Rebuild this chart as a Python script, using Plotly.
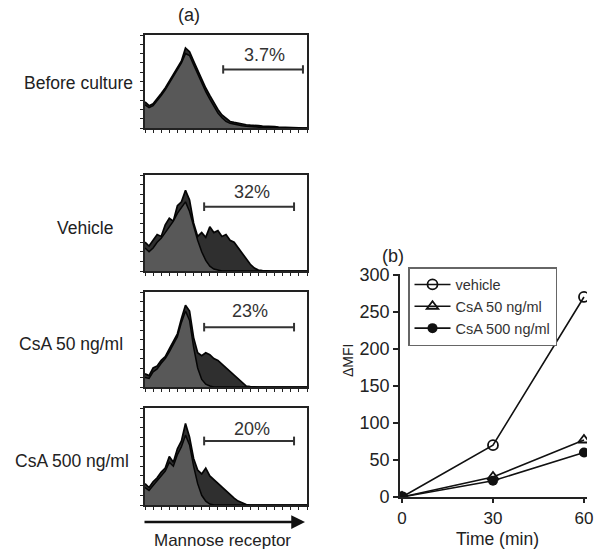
import plotly.graph_objects as go

W, H = 601, 549

# ---------------- data: histograms (counts as % of panel height, 41 channel bins) ----------------
hist_labels = ["Before culture", "Vehicle", "CsA 50 ng/ml", "CsA 500 ng/ml"]
pct_labels = ["3.7%", "32%", "23%", "20%"]
gate_start = [19.3, 14.6, 14.6, 14.6]
gate_end = [39.0, 36.8, 36.8, 36.8]

sample_before = [28, 24, 26, 31, 37, 43, 50, 57, 64, 72, 86, 82, 72, 62, 52, 43, 35, 27, 20, 14, 10,
                 7, 6, 5, 4, 3.5, 3, 3, 2.5, 2, 2, 1.5, 1.5, 1, 1, 0.8, 0.5, 0.3, 0.2, 0, 0]
control_before = [25, 22, 24, 29, 35, 41, 48, 55, 62, 70, 80, 78, 68, 58, 48, 39, 31, 23, 16, 11, 7,
                  5, 4, 3, 2.5, 2, 1.5, 1, 1, 0.5, 0.5, 0.3, 0, 0, 0, 0, 0, 0, 0, 0, 0]
sample_vehicle = [30, 26, 32, 38, 36, 48, 55, 52, 68, 72, 84, 74, 50, 36, 40, 35, 46, 40, 42, 36, 38,
                  32, 30, 24, 18, 12, 7, 3, 1, 0.5, 0, 0, 0, 0, 0, 0, 0, 0, 0, 0, 0]
control_vehicle = [24, 20, 24, 30, 34, 40, 46, 52, 60, 66, 72, 62, 46, 32, 20, 11, 5, 2, 1, 0, 0,
                   0, 0, 0, 0, 0, 0, 0, 0, 0, 0, 0, 0, 0, 0, 0, 0, 0, 0, 0, 0]
sample_csa50 = [14, 12, 20, 22, 28, 32, 40, 48, 56, 72, 86, 80, 52, 36, 33, 36, 34, 30, 28, 24, 20,
                16, 12, 8, 4, 1, 0.5, 0, 0, 0, 0, 0, 0, 0, 0, 0, 0, 0, 0, 0, 0]
control_csa50 = [10, 9, 16, 19, 25, 30, 37, 45, 53, 68, 80, 70, 42, 20, 8, 3, 1, 0, 0, 0, 0,
                 0, 0, 0, 0, 0, 0, 0, 0, 0, 0, 0, 0, 0, 0, 0, 0, 0, 0, 0, 0]
sample_csa500 = [22, 18, 24, 28, 34, 38, 50, 44, 58, 66, 84, 70, 48, 36, 32, 38, 30, 26, 22, 18, 14,
                 10, 7, 4, 2, 0.5, 0, 0, 0, 0, 0, 0, 0, 0, 0, 0, 0, 0, 0, 0, 0]
control_csa500 = [18, 15, 20, 25, 30, 35, 44, 40, 52, 60, 72, 62, 40, 22, 10, 4, 1, 0, 0, 0, 0,
                  0, 0, 0, 0, 0, 0, 0, 0, 0, 0, 0, 0, 0, 0, 0, 0, 0, 0, 0, 0]
samples = [sample_before, sample_vehicle, sample_csa50, sample_csa500]
controls = [control_before, control_vehicle, control_csa50, control_csa500]
bins = list(range(41))

# ---------------- data: line chart ----------------
time_min = [0, 30, 60]
vehicle = [0, 70, 270]
csa50 = [0, 27, 77]
csa500 = [0, 22, 60]
y_ticks = [0, 50, 100, 150, 200, 250, 300]
x_ticks = [0, 30, 60]


def X(px):
    return px / W


def Y(py):
    return 1 - py / H


def text_ann(px, py, text, size, **kw):
    d = dict(xref="paper", yref="paper", x=X(px), y=Y(py), text=text, showarrow=False,
             xanchor="center", yanchor="middle", font=dict(size=size, color="#222"))
    d.update(kw)
    return d


panel_px = [(35, 128), (175, 271), (292, 387), (408, 505)]
label_px = [(78, 83), (85, 228), (71, 344), (72, 461)]
gate_y = [63, 67, 63, 66]
pct_y = [78, 82, 80, 78]
pct_x = [29.6, 26.4, 25.9, 26.4]

fig = go.Figure()
layout = dict(
    width=W, height=H, margin=dict(l=0, r=0, t=0, b=0, autoexpand=False),
    paper_bgcolor="white", plot_bgcolor="white", showlegend=True,
    font=dict(family="Liberation Sans, Arial, sans-serif", color="#222"),
)
annotations = []
shapes = []

for i in range(4):
    n = i + 1
    xa = "x" if n == 1 else f"x{n}"
    ya = "y" if n == 1 else f"y{n}"
    fig.add_trace(go.Scatter(x=bins, y=samples[i], mode="lines", fill="tozeroy",
                             fillcolor="#2f2f2f", line=dict(color="#050505", width=1.7),
                             xaxis=xa, yaxis=ya, showlegend=False, hoverinfo="skip"))
    fig.add_trace(go.Scatter(x=bins, y=controls[i], mode="lines", fill="tozeroy",
                             fillcolor="#585858", line=dict(color="#050505", width=1.5),
                             xaxis=xa, yaxis=ya, showlegend=False, hoverinfo="skip"))
    top, bot = panel_px[i]
    axcommon = dict(showline=True, linecolor="#222", linewidth=1.6, mirror=True,
                    showgrid=False, zeroline=False, showticklabels=False, automargin=False,
                    ticks="outside", ticklen=3, tickcolor="#222", tickwidth=1)
    layout["xaxis" if n == 1 else f"xaxis{n}"] = dict(
        domain=[X(145), X(307)], range=[0, 40], anchor=ya,
        tickvals=[0, 2, 4, 6, 8, 10, 12, 14, 16, 18, 20, 22, 24, 26, 28, 30, 32, 34, 36, 38, 40], **axcommon)
    layout["yaxis" if n == 1 else f"yaxis{n}"] = dict(
        domain=[Y(bot), Y(top)], range=[0, 100], anchor=xa,
        tickvals=[0, 10, 20, 30, 40, 50, 60, 70, 80, 90, 100], **axcommon)
    shapes.append(dict(type="line", xref=xa, yref=ya, x0=gate_start[i], x1=gate_end[i],
                       y0=gate_y[i], y1=gate_y[i], line=dict(color="#333", width=2)))
    for gx in (gate_start[i], gate_end[i]):
        shapes.append(dict(type="line", xref=xa, yref=ya, x0=gx, x1=gx,
                           y0=gate_y[i] - 4.5, y1=gate_y[i] + 4.5, line=dict(color="#333", width=2)))
    annotations.append(dict(xref=xa, yref=ya, x=pct_x[i], y=pct_y[i], text=pct_labels[i],
                            showarrow=False, xanchor="center", yanchor="middle",
                            font=dict(size=18, color="#333")))
    lx, ly = label_px[i]
    annotations.append(text_ann(lx, ly, hist_labels[i], 17.5))

annotations.append(dict(xref="paper", yref="paper", x=X(305), y=Y(522), ax=-162, ay=0,
                        text="", showarrow=True, arrowhead=2, arrowsize=1.1, arrowwidth=2.5,
                        arrowcolor="#111"))
annotations.append(text_ann(222, 540, "Mannose receptor", 17))
annotations.append(text_ann(189, 15, "(a)", 18))
annotations.append(text_ann(393, 256, "(b)", 18))
annotations.append(text_ann(348, 361, "ΔMFI", 14, textangle=-90))
annotations.append(text_ann(497, 538.5, "Time (min)", 17.5))

fig.add_trace(go.Scatter(x=time_min, y=vehicle, mode="lines+markers", name="vehicle",
                         line=dict(color="#111", width=1.6),
                         marker=dict(symbol="circle-open", size=10, color="#111", line=dict(width=1.8)),
                         xaxis="x5", yaxis="y5"))
fig.add_trace(go.Scatter(x=time_min, y=csa50, mode="lines+markers", name="CsA 50 ng/ml",
                         line=dict(color="#111", width=1.6),
                         marker=dict(symbol="triangle-up-open", size=10, color="#111", line=dict(width=1.8)),
                         xaxis="x5", yaxis="y5"))
fig.add_trace(go.Scatter(x=time_min, y=csa500, mode="lines+markers", name="CsA 500 ng/ml",
                         line=dict(color="#111", width=1.6),
                         marker=dict(symbol="circle", size=10, color="#111"),
                         xaxis="x5", yaxis="y5"))

layout["xaxis5"] = dict(domain=[X(400), X(587)], range=[-0.66, 61], anchor="y5", automargin=False,
                        tickvals=x_ticks, ticks="outside", ticklen=4, tickwidth=1.5,
                        tickcolor="#222", showline=True, linecolor="#222", linewidth=1.6,
                        showgrid=False, zeroline=False, tickfont=dict(size=17, color="#222"))
layout["yaxis5"] = dict(domain=[Y(497.4), Y(274)], range=[-0.5, 301], anchor="x5", automargin=False,
                        tickvals=y_ticks, ticks="outside", ticklen=5,
                        tickwidth=1.5, tickcolor="#222", showline=True, linecolor="#222",
                        linewidth=1.6, showgrid=False, zeroline=False,
                        tickfont=dict(size=18, color="#222"))
layout["legend"] = dict(x=X(408), y=Y(267), xanchor="left", yanchor="top", itemwidth=36,
                        bordercolor="#666", borderwidth=1.5, bgcolor="white",
                        font=dict(size=14.5, color="#333"), tracegroupgap=0)
layout["annotations"] = annotations
layout["shapes"] = shapes
fig.update_layout(**layout)
fig.write_html("out.html", config={"displayModeBar": False},
               post_script="document.body.style.margin='0';document.body.style.overflow='hidden';")
